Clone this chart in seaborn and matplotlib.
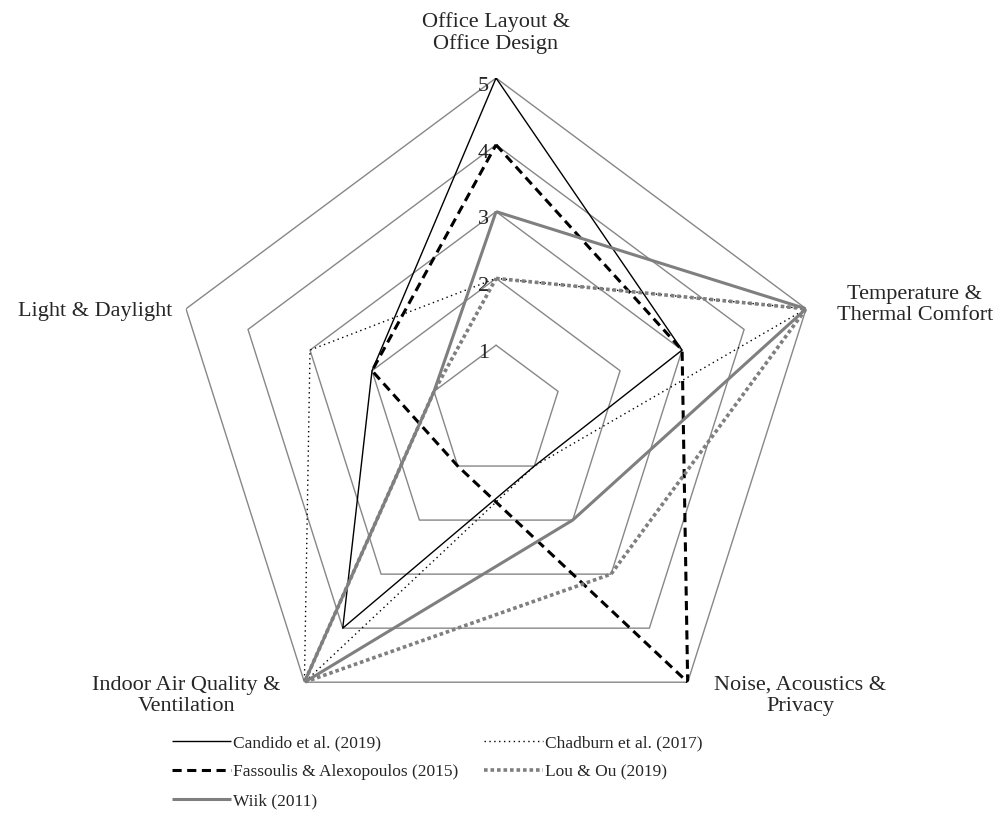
import numpy as np
import pandas as pd
import matplotlib.pyplot as plt
import seaborn as sns

# Data (clockwise from the top)
categories = ['Office Layout &\nOffice Design', 'Temperature &\nThermal Comfort',
              'Noise, Acoustics &\nPrivacy', 'Indoor Air Quality &\nVentilation',
              'Light & Daylight']
studies = ['Candido et al. (2019)', 'Chadburn et al. (2017)',
           'Fassoulis & Alexopoulos (2015)', 'Lou & Ou (2019)', 'Wiik (2011)']
candido = [5, 3, 1, 4, 2]
chadburn = [2, 5, 1, 5, 3]
fassoulis = [4, 3, 5, 1, 2]
lou_ou = [2, 5, 3, 5, 1]
wiik = [3, 5, 2, 5, 1]
ring_values = [1, 2, 3, 4, 5]

sns.set_theme(style='white')
plt.rcParams['font.family'] = ['Liberation Serif', 'DejaVu Serif']

n = len(categories)
angles = np.linspace(0, 2 * np.pi, n, endpoint=False)
closed_angles = np.append(angles, 2 * np.pi)

rows = []
for study, vals in zip(studies, [candido, chadburn, fassoulis, lou_ou, wiik]):
    for i, a in enumerate(closed_angles):
        rows.append({'study': study, 'order': i, 'angle': a, 'score': vals[i % n]})
df = pd.DataFrame(rows)

# line styles per study
styles = {
    'Candido et al. (2019)': dict(color='black', linewidth=1.0, linestyle='-'),
    'Chadburn et al. (2017)': dict(color='black', linewidth=1.0, linestyle=(0, (1, 2.5))),
    'Fassoulis & Alexopoulos (2015)': dict(color='black', linewidth=2.2, linestyle=(0, (3, 1.8))),
    'Lou & Ou (2019)': dict(color='#7f7f7f', linewidth=2.6, linestyle=(0, (1, 0.8))),
    'Wiik (2011)': dict(color='#7f7f7f', linewidth=2.2, linestyle='-'),
}

fig = plt.figure(figsize=(9.99, 8.38), dpi=100)
ax = fig.add_axes([0.1702, 0.1098, 0.6527, 0.7971], projection='polar')
ax.set_aspect('auto')
ax.set_theta_offset(np.pi / 2)
ax.set_theta_direction(-1)

# pentagon gridlines
for v in ring_values:
    ax.plot(closed_angles, [v] * len(closed_angles), color='#878787', linewidth=1.0, zorder=1)

handles = {}
for study in studies:
    sub = df[df['study'] == study]
    sns.lineplot(data=sub, x='angle', y='score', sort=False, estimator=None,
                 ax=ax, legend=False, zorder=3, **styles[study])
    line = ax.lines[-1]
    line.set_solid_capstyle('butt')
    line.set_dash_capstyle('butt')
    handles[study] = line

ax.set_ylim(0, 5)
ax.grid(False)
ax.spines['polar'].set_visible(False)
ax.set_xticks([])
ax.set_yticks([])
ax.set_xlabel('')
ax.set_ylabel('')
ax.patch.set_alpha(0)

# radial scale labels
for v in ring_values:
    ax.annotate(str(v), xy=(0, v), xytext=(-5, -6), textcoords='offset points',
                ha='right', va='center', fontsize=16)

# category labels
label_pos = [((0, 17), 'center', 'bottom'),
             ((22, 3), 'left', 'center'),
             ((19, -10), 'left', 'center'),
             ((-17, -10), 'right', 'center'),
             ((-10, -2), 'right', 'center')]
for a, cat, (off, ha, va) in zip(angles, categories, label_pos):
    ax.annotate(cat, xy=(a, 5), xytext=off, textcoords='offset points',
                ha=ha, va=va, multialignment='center', fontsize=16, linespacing=1.15)

# legend filled row by row like the reference
order = ['Candido et al. (2019)', 'Fassoulis & Alexopoulos (2015)', 'Wiik (2011)',
         'Chadburn et al. (2017)', 'Lou & Ou (2019)']
fig.legend([handles[s] for s in order], order, ncol=2, loc='upper left',
           bbox_to_anchor=(0.172, 0.123), frameon=False, fontsize=12.5,
           handlelength=3.4, handletextpad=0.1, columnspacing=1.5,
           labelspacing=0.75, borderpad=0, borderaxespad=0)

fig.savefig('out.png', dpi=100)
